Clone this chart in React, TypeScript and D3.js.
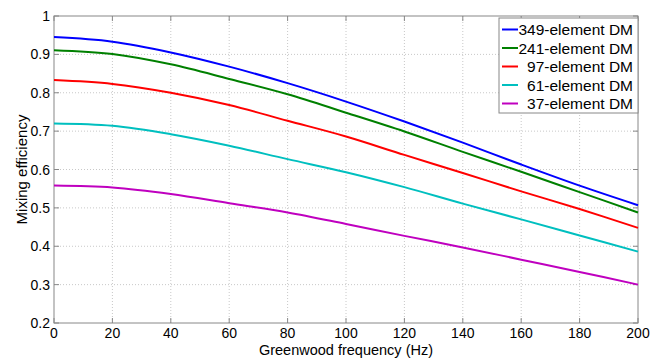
import React from "react";
import * as d3 from "d3";

const freqs = [0, 20, 40, 60, 80, 100, 120, 140, 160, 180, 200];
const dm349 = [0.945, 0.933, 0.905, 0.868, 0.825, 0.777, 0.725, 0.67, 0.613, 0.558, 0.507];
const dm241 = [0.911, 0.901, 0.874, 0.836, 0.796, 0.748, 0.699, 0.646, 0.594, 0.541, 0.488];
const dm97 = [0.833, 0.823, 0.8, 0.768, 0.727, 0.686, 0.638, 0.591, 0.543, 0.497, 0.448];
const dm61 = [0.72, 0.714, 0.692, 0.662, 0.627, 0.593, 0.554, 0.511, 0.47, 0.428, 0.386];
const dm37 = [0.558, 0.553, 0.536, 0.512, 0.488, 0.458, 0.427, 0.397, 0.365, 0.333, 0.3];

const seriesNames = ["349-element DM", "241-element DM", "97-element DM", "61-element DM", "37-element DM"];
const seriesValues = [dm349, dm241, dm97, dm61, dm37];
const seriesColors = ["#0000ff", "#008000", "#ff0000", "#00bfbf", "#bf00bf"];

const xTicks = [0, 20, 40, 60, 80, 100, 120, 140, 160, 180, 200];
const yTicks = [0.2, 0.3, 0.4, 0.5, 0.6, 0.7, 0.8, 0.9, 1];

const W = 650;
const H = 358;
const plot = { left: 54, right: 638, top: 16, bottom: 323 };
const FONT = "'Liberation Sans', Arial, Helvetica, sans-serif";
const AXIS = "#888888";
const GRID = "#c8c8c8";

export default function App() {
  const x = d3.scaleLinear().domain([0, 200]).range([plot.left, plot.right]);
  const y = d3.scaleLinear().domain([0.2, 1]).range([plot.bottom, plot.top]);
  const line = d3
    .line<[number, number]>()
    .x((d) => x(d[0]))
    .y((d) => y(d[1]))
    .curve(d3.curveCatmullRom.alpha(0.5));

  const legend = { x0: 499, x1: 638, y0: 18, y1: 113, rowH: 18.5, firstRow: 29.5 };

  return (
    <svg
      width={W}
      height={H}
      style={{ position: "absolute", left: 0, top: 0, background: "#fff" }}
      fontFamily={FONT}
    >
      <rect x={0} y={0} width={W} height={H} fill="#fff" />
      {/* grid */}
      {xTicks.slice(1, -1).map((t) => (
        <line key={"gx" + t} x1={x(t)} x2={x(t)} y1={plot.top} y2={plot.bottom} stroke={GRID} strokeWidth={1} strokeDasharray="1,2" />
      ))}
      {yTicks.slice(1, -1).map((t) => (
        <line key={"gy" + t} x1={plot.left} x2={plot.right} y1={y(t)} y2={y(t)} stroke={GRID} strokeWidth={1} strokeDasharray="1,2" />
      ))}
      {/* frame */}
      <rect x={plot.left} y={plot.top} width={plot.right - plot.left} height={plot.bottom - plot.top} fill="none" stroke={AXIS} strokeWidth={1} />
      {/* ticks (inward) */}
      {xTicks.map((t) => (
        <g key={"tx" + t}>
          <line x1={x(t)} x2={x(t)} y1={plot.bottom} y2={plot.bottom - 5} stroke={AXIS} />
          <line x1={x(t)} x2={x(t)} y1={plot.top} y2={plot.top + 5} stroke={AXIS} />
          <text x={x(t)} y={338} textAnchor="middle" fontSize={14} fill="#000">
            {t}
          </text>
        </g>
      ))}
      {yTicks.map((t) => (
        <g key={"ty" + t}>
          <line x1={plot.left} x2={plot.left + 5} y1={y(t)} y2={y(t)} stroke={AXIS} />
          <line x1={plot.right} x2={plot.right - 5} y1={y(t)} y2={y(t)} stroke={AXIS} />
          <text x={plot.left - 4} y={y(t) + 5} textAnchor="end" fontSize={14} fill="#000">
            {d3.format("~g")(t)}
          </text>
        </g>
      ))}
      {/* series */}
      {seriesValues.map((vals, i) => (
        <path
          key={seriesNames[i]}
          d={line(freqs.map((f, j) => [f, vals[j]] as [number, number])) || ""}
          fill="none"
          stroke={seriesColors[i]}
          strokeWidth={2}
        />
      ))}
      {/* axis labels */}
      <text x={(plot.left + plot.right) / 2} y={354.5} textAnchor="middle" fontSize={14.5} fill="#000">
        Greenwood frequency (Hz)
      </text>
      <text
        transform={`translate(27, ${(plot.top + plot.bottom) / 2}) rotate(-90)`}
        textAnchor="middle"
        fontSize={15}
        fill="#000"
      >
        Mixing efficiency
      </text>
      {/* legend */}
      <rect x={legend.x0} y={legend.y0} width={legend.x1 - legend.x0} height={legend.y1 - legend.y0} fill="#fff" stroke={AXIS} strokeWidth={1} />
      {seriesNames.map((name, i) => {
        const cy = legend.firstRow + i * legend.rowH;
        return (
          <g key={"lg" + name}>
            <line x1={502} x2={518} y1={cy} y2={cy} stroke={seriesColors[i]} strokeWidth={2} />
            <text x={633} y={cy + 5.5} textAnchor="end" fontSize={15.5} fill="#000">
              {name}
            </text>
          </g>
        );
      })}
    </svg>
  );
}
